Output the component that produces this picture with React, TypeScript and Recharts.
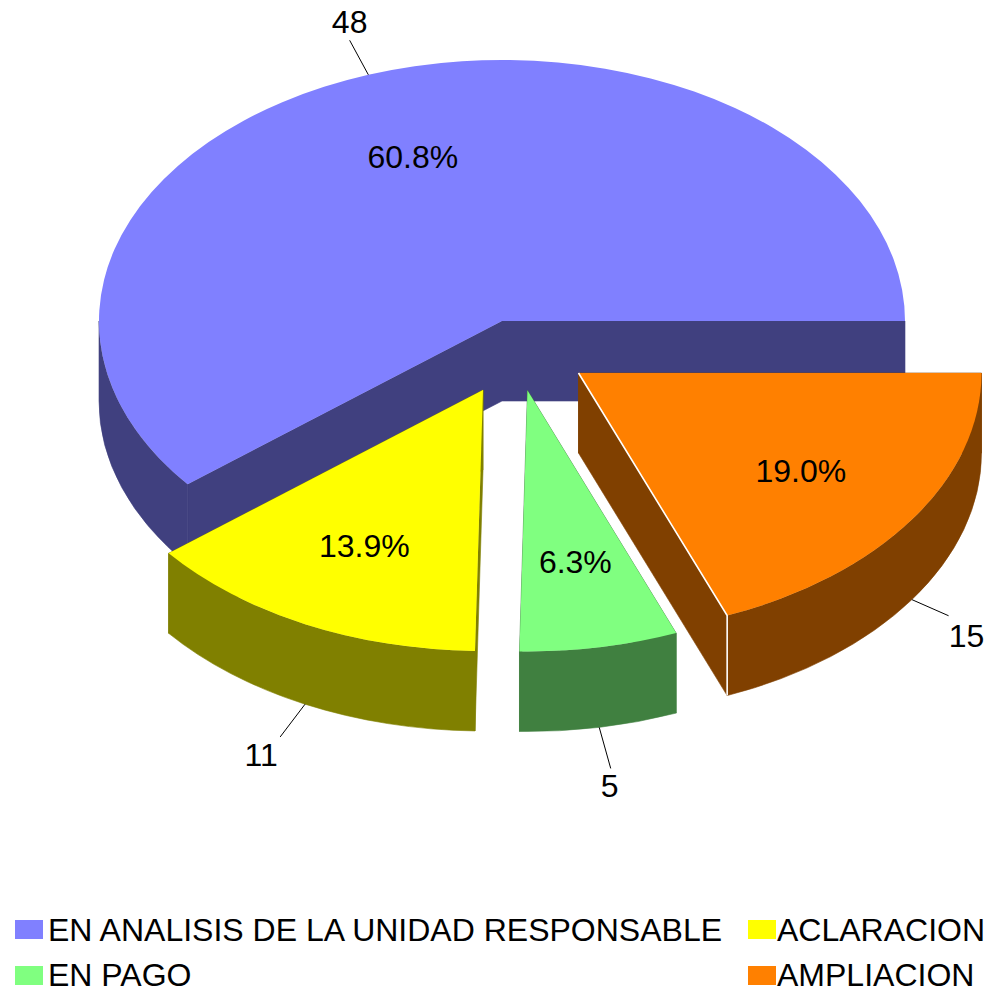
import React from 'react';
import { PieChart, Pie, Legend } from 'recharts';

const categories = ['EN ANALISIS DE LA UNIDAD RESPONSABLE', 'ACLARACION', 'EN PAGO', 'AMPLIACION'];
const values = [48, 11, 5, 15];
const topColors = ['#8080ff', '#ffff00', '#80ff80', '#ff8000'];
const sideColors = ['#40407f', '#808000', '#408040', '#804000'];
// Screen offset of each exploded slice from the pie centre (style only).
const explodeX = [0, -19, 25.5, 76.5];
const explodeY = [0, 69, 69.5, 52];
const brightEdge = [false, false, false, true];
// Leader length and value-label offset for each slice (style only).
const leaderScale = [1.14, 1.14, 1.16, 1.11];
const valueDx = [0, -19, -1, 18];
const valueDy = [-18, 18, 18, 20];

const tableData = categories.map((name, i) => ({ name, value: values[i], fill: topColors[i] }));

const W = 988;
const H = 992;
const CX = 502;
const CY = 321;
const RX = 403;
const RY = 261;
const SQUASH = RY / RX;
const DEPTH = 80;
const FONT = '"Liberation Sans", Arial, sans-serif';
const FONT_SIZE = 32;

const rad = (a: number) => (a * Math.PI) / 180;

function project(cx: number, cy: number, r: number, angle: number, i: number, f = 1) {
  return {
    x: cx + explodeX[i] + r * f * Math.cos(rad(angle)),
    y: cy + explodeY[i] - r * SQUASH * f * Math.sin(rad(angle)),
  };
}

function PieSlice3D(props: any) {
  const { cx, cy, outerRadius: r, startAngle, endAngle, index: idx } = props;
  const i: number = idx ?? props.payload?.index ?? categories.indexOf(props.name);
  const rx = r;
  const ry = r * SQUASH;
  const apex = { x: cx + explodeX[i], y: cy + explodeY[i] };
  const s = project(cx, cy, r, startAngle, i);
  const e = project(cx, cy, r, endAngle, i);
  const large = Math.abs(endAngle - startAngle) > 180 ? 1 : 0;
  const top = `M${apex.x},${apex.y}L${s.x},${s.y}A${rx},${ry} 0 ${large} 0 ${e.x},${e.y}Z`;
  const face = (p: { x: number; y: number }) =>
    `M${apex.x},${apex.y}L${p.x},${p.y}L${p.x},${p.y + DEPTH}L${apex.x},${apex.y + DEPTH}Z`;
  const a0 = Math.max(startAngle, 180);
  const a1 = Math.min(endAngle, 360);
  let wall = '';
  if (a1 > a0) {
    const w0 = project(cx, cy, r, a0, i);
    const w1 = project(cx, cy, r, a1, i);
    wall =
      `M${w0.x},${w0.y}A${rx},${ry} 0 0 0 ${w1.x},${w1.y}` +
      `L${w1.x},${w1.y + DEPTH}A${rx},${ry} 0 0 1 ${w0.x},${w0.y + DEPTH}Z`;
  }
  const side = sideColors[i];
  return (
    <g>
      <path d={face(s)} fill={side} stroke={side} strokeWidth={0.6} />
      <path d={face(e)} fill={side} stroke={side} strokeWidth={0.6} />
      {wall && <path d={wall} fill={side} stroke={side} strokeWidth={0.6} />}
      <path d={top} fill={topColors[i]} />
      {brightEdge[i] && (
        <path
          d={`M${apex.x},${apex.y}L${s.x},${s.y}L${s.x},${s.y + DEPTH}`}
          fill="none"
          stroke="#ffffff"
          strokeWidth={1.6}
        />
      )}
    </g>
  );
}

function SliceLabel(props: any) {
  const { cx, cy, midAngle, outerRadius: r, percent, value, index: i } = props;
  const inner = project(cx, cy, r, midAngle, i, 0.667);
  const drop = Math.sin(rad(midAngle)) < 0 ? DEPTH : 0;
  const rim = project(cx, cy, r, midAngle, i);
  const end = project(cx, cy, r, midAngle, i, leaderScale[i]);
  const common = { fontFamily: FONT, fontSize: FONT_SIZE, fill: '#000000', textAnchor: 'middle' as const, dominantBaseline: 'central' as const };
  return (
    <g>
      <text x={inner.x} y={inner.y} {...common}>{`${(percent * 100).toFixed(1)}%`}</text>
      <line x1={rim.x} y1={rim.y + drop} x2={end.x} y2={end.y + drop} stroke="#000000" strokeWidth={1} />
      <text x={end.x + valueDx[i]} y={end.y + drop + valueDy[i]} {...common}>{value}</text>
    </g>
  );
}

const legendCols = [15, 748];
const legendGaps = [5, 1];
const legendRows = [920, 966];
const legendTextShift = [1, 0];

function LegendBlock({ payload }: any) {
  return (
    <div style={{ position: 'relative', width: W, height: H }}>
      {(payload || []).map((item: any, i: number) => {
        const left = legendCols[i % 2];
        const row = Math.floor(i / 2);
        const top = legendRows[row];
        return (
          <div key={item.value} style={{ position: 'absolute', left, top, display: 'flex', alignItems: 'center', height: 19 }}>
            <div style={{ width: 28, height: 19, background: item.color, flex: 'none' }} />
            <span style={{ marginLeft: legendGaps[i % 2], position: 'relative', top: legendTextShift[row], fontFamily: FONT, fontSize: FONT_SIZE, color: '#000', whiteSpace: 'nowrap', lineHeight: '19px' }}>
              {item.value}
            </span>
          </div>
        );
      })}
    </div>
  );
}

export default function App() {
  return (
    <div style={{ position: 'absolute', left: 0, top: 0, width: W, height: H, background: '#fff', overflow: 'hidden' }}>
      <PieChart width={W} height={H} margin={{ top: 0, right: 0, bottom: 0, left: 0 }}>
        <Pie
          data={tableData}
          dataKey="value"
          nameKey="name"
          cx={CX}
          cy={CY}
          innerRadius={0}
          outerRadius={RX}
          startAngle={0}
          endAngle={360}
          stroke="none"
          isAnimationActive={false}
          shape={PieSlice3D}
          inactiveShape={PieSlice3D}
          label={SliceLabel}
          labelLine={false}
        />
        <Legend
          content={LegendBlock}
          itemSorter={null}
          wrapperStyle={{ position: 'absolute', left: 0, top: 0, width: W, height: H, bottom: 'auto', pointerEvents: 'none' }}
        />
      </PieChart>
    </div>
  );
}
